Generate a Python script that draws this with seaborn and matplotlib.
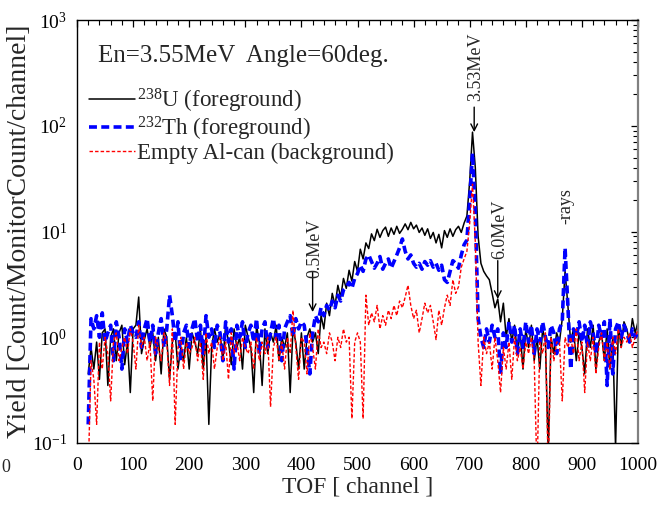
import numpy as np
import pandas as pd
import matplotlib
matplotlib.use("Agg")
import matplotlib.pyplot as plt
from matplotlib.lines import Line2D
from matplotlib.ticker import MultipleLocator, LogLocator, NullFormatter
import seaborn as sns

# ---------------- data ----------------
channel = list(range(20, 1001, 5))

u238 = [
    # 20..100
    0.45, 0.8, 0.5, 0.9, 0.4, 1.1, 1.2, 0.35, 1.0, 1.2, 0.6, 1.1, 1.3, 0.55, 0.9, 0.3, 1.2,
    # 105..200
    1.3, 2.4, 0.7, 0.95, 1.2, 0.8, 1.1, 0.6, 1.0, 0.45, 1.2, 1.0, 0.4, 0.9, 1.1, 0.5, 0.8, 0.6, 1.0, 0.5,
    # 205..300
    1.1, 0.9, 0.7, 1.2, 0.5, 1.0, 0.15, 0.8, 1.2, 0.9, 1.1, 0.6, 1.3, 0.9, 0.55, 1.2, 0.8, 1.0, 0.5, 1.3,
    # 305..400
    1.0, 0.8, 0.3, 1.3, 0.9, 0.35, 1.2, 0.7, 1.1, 0.9, 1.3, 0.6, 1.0, 0.8, 1.1, 0.3, 1.2, 0.9, 0.5, 1.1,
    # 405..500
    0.5, 1.0, 1.2, 0.9, 1.1, 0.7, 1.6, 1.2, 2.1, 1.6, 2.6, 2.0, 3.1, 2.4, 3.6, 2.9, 4.3, 3.4, 5.2, 4.2,
    # 505..600
    6.8, 5.5, 7.8, 6.9, 9.5, 8.2, 10.5, 8.8, 10.2, 11.0, 9.0, 10.8, 9.4, 11.2, 9.6, 10.5, 11.8, 10.4, 12.2, 10.6,
    # 605..700
    11.5, 9.8, 10.8, 9.2, 10.6, 8.6, 9.8, 7.8, 9.4, 7.0, 10.2, 8.8, 10.6, 9.0, 10.4, 11.2, 9.8, 12.0, 14.0, 30.0,
    # 705..800
    87.0, 40.0, 9.0, 5.0, 4.2, 3.8, 3.5, 2.6, 1.9, 2.3, 1.4, 2.1, 1.0, 1.5, 0.9, 1.3, 0.7, 1.1, 0.5, 1.2,
    # 805..900
    0.8, 1.3, 0.6, 1.0, 0.5, 1.2, 0.9, 0.08, 1.0, 0.7, 1.1, 0.9, 1.5, 4.2, 2.0, 0.9, 1.2, 0.6, 1.1, 0.8,
    # 905..1000
    0.45, 1.2, 0.8, 1.3, 0.5, 0.9, 1.1, 0.6, 1.2, 0.5, 1.0, 0.09, 1.3, 0.8, 1.4, 1.2, 0.9, 1.5, 1.1, 1.4,
]

th232 = [
    # 20..100
    0.15, 1.5, 1.2, 1.6, 1.0, 1.7, 0.9, 1.1, 1.3, 0.6, 1.4, 1.0, 0.5, 1.2, 0.9, 1.3, 1.1,
    # 105..200
    1.0, 1.4, 0.8, 1.2, 1.5, 0.9, 1.3, 0.7, 1.1, 1.5, 0.8, 1.2, 2.5, 1.6, 0.9, 1.4, 0.6, 1.1, 1.3, 0.8,
    # 205..300
    1.2, 1.5, 0.9, 1.3, 0.7, 1.6, 1.0, 1.2, 0.8, 1.3, 1.1, 0.6, 1.4, 0.9, 1.2, 0.5, 1.3, 1.0, 1.4, 0.8,
    # 305..400
    1.1, 1.3, 0.9, 1.5, 0.7, 1.2, 1.4, 0.8, 1.1, 1.5, 1.0, 1.3, 0.6, 1.2, 1.4, 1.6, 1.0, 1.5, 1.2, 1.4,
    # 405..500
    1.3, 0.8, 0.45, 1.1, 1.6, 1.4, 1.9, 1.6, 2.0, 1.8, 2.2, 1.9, 2.5, 2.2, 2.8, 3.0, 3.3, 2.9, 3.6, 4.0,
    # 505..600
    4.8, 4.2, 5.5, 6.0, 5.2, 4.5, 5.0, 5.8, 4.4, 5.0, 5.5, 4.5, 5.2, 6.0, 7.0, 8.5, 6.5, 5.5, 6.0, 5.0,
    # 605..700
    4.6, 5.0, 4.4, 5.2, 4.8, 5.3, 4.6, 5.0, 4.3, 4.8, 3.5, 3.3, 4.2, 5.3, 5.0, 4.5, 6.0, 7.5, 8.3, 20.0,
    # 705..800
    55.0, 15.0, 1.5, 1.0, 0.8, 1.2, 0.9, 1.3, 1.0, 1.2, 0.45, 1.1, 0.8, 1.4, 0.9, 1.3, 0.7, 1.2, 0.8, 1.4,
    # 805..900
    0.9, 1.3, 0.7, 1.2, 0.9, 1.4, 1.0, 0.8, 1.3, 1.1, 0.7, 1.2, 1.4, 7.0, 2.0, 0.5, 1.2, 1.0, 1.4, 0.9,
    # 905..1000
    1.3, 0.8, 1.4, 1.1, 0.7, 1.3, 1.0, 1.4, 0.35, 1.5, 0.45, 1.2, 1.4, 1.0, 1.3, 1.1, 0.9, 1.2, 1.0, 1.1,
]

empty_al = [
    # 20..100
    0.05, 0.6, 0.4, 0.15, 0.9, 0.5, 1.0, 0.7, 0.25, 0.9, 1.1, 0.6, 0.8, 1.0, 0.7, 1.2, 0.9,
    # 105..200
    0.5, 1.3, 0.8, 1.0, 0.6, 0.9, 0.25, 1.0, 0.8, 0.6, 1.1, 0.9, 0.35, 1.2, 0.15, 0.8, 1.0, 0.5, 0.9, 0.7,
    # 205..300
    0.8, 1.0, 0.6, 0.9, 0.4, 1.1, 0.7, 0.9, 0.5, 0.8, 1.0, 0.6, 0.9, 0.4, 1.1, 0.7, 0.9, 0.6, 1.0, 0.8,
    # 305..400
    0.7, 0.9, 0.5, 1.0, 0.6, 0.9, 0.7, 1.0, 0.22, 0.8, 1.0, 0.6, 0.9, 0.5, 1.0, 0.7, 1.8, 0.8, 0.4, 1.0,
    # 405..500
    0.9, 0.45, 1.1, 0.8, 0.5, 1.2, 0.8, 0.9, 0.7, 1.1, 0.9, 0.6, 1.0, 0.8, 1.2, 0.9, 1.0, 0.17, 0.9, 1.1,
    # 505..600
    0.9, 0.17, 2.5, 1.3, 1.7, 1.4, 2.0, 1.2, 1.6, 1.3, 1.8, 1.5, 2.0, 1.6, 2.2, 1.9, 2.4, 3.1, 2.0, 1.5,
    # 605..700
    1.8, 1.1, 1.5, 2.1, 1.7, 2.0, 1.4, 0.95, 1.8, 1.3, 1.9, 2.5, 2.0, 3.5, 2.6, 3.0, 4.6, 5.5, 6.5, 12.0,
    # 705..800
    28.0, 8.0, 0.9, 0.35, 1.0, 0.7, 0.9, 0.5, 1.0, 0.6, 0.3, 0.8, 0.5, 0.9, 0.4, 1.0, 0.6, 0.8, 0.5, 0.9,
    # 805..900
    0.7, 1.0, 0.6, 0.05, 0.9, 0.7, 1.1, 0.05, 1.0, 0.6, 0.9, 0.9, 0.25, 1.0, 0.8, 1.0, 0.7, 1.2, 0.6, 0.9,
    # 905..1000
    0.3, 0.9, 0.6, 1.0, 0.45, 0.8, 1.1, 0.6, 0.9, 0.5, 1.0, 0.7, 1.2, 0.8, 1.0, 0.9, 1.1, 0.8, 1.0, 1.2,
]

labels = [r"$^{238}$U (foreground)", r"$^{232}$Th (foreground)", "Empty Al-can (background)"]
title_text = "En=3.55MeV  Angle=60deg."

# ---------------- style ----------------
sns.set_theme(style="white")
plt.rcParams["font.family"] = ["Liberation Serif", "DejaVu Serif"]
plt.rcParams["mathtext.fontset"] = "custom"
plt.rcParams["mathtext.rm"] = "Liberation Serif"
plt.rcParams["mathtext.it"] = "Liberation Serif:italic"
plt.rcParams["mathtext.bf"] = "Liberation Serif:bold"

fig = plt.figure(figsize=(6.72, 5.05), dpi=100)
ax = fig.add_axes([77 / 672, 62 / 505, 561 / 672, 423 / 505])

df = pd.DataFrame({"channel": channel, "U": u238, "Th": th232, "Al": empty_al})

sns.lineplot(data=df, x="channel", y="U", ax=ax, color="black", lw=1.1, zorder=2)
sns.lineplot(data=df, x="channel", y="Th", ax=ax, color="#0000ff", lw=2.6,
             linestyle=(0, (2.2, 1.2)), zorder=3)
sns.lineplot(data=df, x="channel", y="Al", ax=ax, color="#ff0000", lw=1.0,
             linestyle=(0, (2.5, 1.5)), zorder=4)

ax.set_yscale("log")
ax.set_xlim(0, 1000)
ax.set_ylim(0.1, 1000)

ax.xaxis.set_major_locator(MultipleLocator(100))
ax.xaxis.set_minor_locator(MultipleLocator(20))
ax.yaxis.set_major_locator(LogLocator(base=10, numticks=10))
ax.yaxis.set_minor_locator(LogLocator(base=10, subs=np.arange(2, 10), numticks=20))
ax.yaxis.set_minor_formatter(NullFormatter())

ax.tick_params(which="both", direction="in", top=True, right=True, colors="black",
               labelsize=14)
ax.tick_params(axis="x", which="major", pad=10)
ax.tick_params(axis="y", which="major", pad=7)
ax.tick_params(which="major", length=5, width=0.9)
ax.tick_params(which="minor", length=3.5, width=0.8)

for s in ["left", "bottom", "top"]:
    ax.spines[s].set_color("black")
    ax.spines[s].set_linewidth(1.0)
ax.spines["right"].set_color("#808080")
ax.spines["right"].set_linewidth(1.6)

ax.set_xlabel("TOF [ channel ]", fontsize=17, labelpad=2)
ax.set_ylabel("Yield [Count/MonitorCount/channel]", fontsize=20, labelpad=0)

ax.text(0.038, 0.915, title_text, transform=ax.transAxes, fontsize=18,
        ha="left", va="center")

handles = [
    Line2D([], [], color="black", lw=1.1),
    Line2D([], [], color="#0000ff", lw=2.6, linestyle=(0, (2.2, 1.2))),
    Line2D([], [], color="#ff0000", lw=1.0, linestyle=(0, (2.5, 1.5))),
]
ax.legend(handles, labels, loc="upper left", bbox_to_anchor=(0.021, 0.843),
          frameon=False, fontsize=16.5, handlelength=2.0, handletextpad=0.12,
          labelspacing=0.0, borderpad=0, borderaxespad=0)

# annotations (arrows + rotated text)
arr = dict(arrowstyle="->", color="black", lw=1.0, shrinkA=0, shrinkB=0,
           mutation_scale=12)
ax.annotate("", xy=(708, 87), xytext=(708, 150), arrowprops=arr)
ax.text(711, 360, "3.53MeV", rotation=90, fontsize=13, ha="center", va="center")

ax.annotate("", xy=(420, 1.73), xytext=(420, 4.1), arrowprops=arr)
ax.text(424, 7.0, "0.5MeV", rotation=90, fontsize=13, ha="center", va="center")

ax.annotate("", xy=(750, 2.3), xytext=(750, 5.3), arrowprops=arr)
ax.text(754, 10.5, "6.0MeV", rotation=90, fontsize=13, ha="center", va="center")

ax.text(872, 17.5, "-rays", rotation=90, fontsize=13, ha="center", va="center")

fig.text(1 / 672, 1 - 467 / 505, "0", fontsize=13, ha="left", va="center")

fig.savefig("out.png", dpi=100)
